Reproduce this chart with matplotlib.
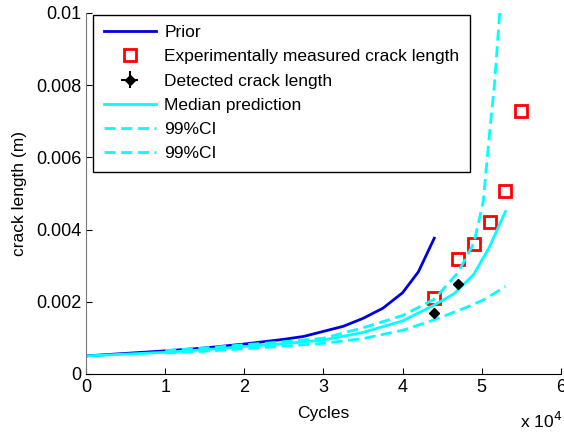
import matplotlib
matplotlib.use("Agg")
import matplotlib.pyplot as plt
from matplotlib.ticker import FuncFormatter
import numpy as np

plt.rcParams['font.family'] = ['Liberation Sans', 'DejaVu Sans']

# prior model prediction
prior_cycles = [0, 5000, 10000, 15000, 20000, 25000, 27500, 30000, 32500, 35000, 37500, 40000, 42000, 44000]
prior_crack = [0.0005, 0.00057, 0.00064, 0.00072, 0.00083, 0.00096, 0.00104, 0.00118, 0.00132,
               0.00154, 0.00182, 0.00225, 0.00283, 0.00376]

# median prediction after updating
median_cycles = [0, 5000, 10000, 15000, 20000, 25000, 30000, 35000, 40000, 44000, 46500, 49000, 51000, 52300, 53000]
median_crack = [0.0005, 0.00055, 0.0006, 0.00067, 0.00076, 0.00084, 0.00094, 0.00115, 0.00147,
                0.00191, 0.00222, 0.00276, 0.00353, 0.00417, 0.0045]

# 99% bounds
upper_cycles = [10000, 15000, 20000, 25000, 30000, 35000, 40000, 44000, 47000, 49000, 49700, 50200, 51000, 51600, 52300, 52600]
upper_crack = [0.00065, 0.00072, 0.00081, 0.00089, 0.00099, 0.00128, 0.00162, 0.00207, 0.00281,
               0.00362, 0.0043, 0.0048, 0.0067, 0.008, 0.0101, 0.0112]
lower_cycles = [10000, 15000, 20000, 25000, 30000, 35000, 40000, 44000, 48000, 50200, 53000]
lower_crack = [0.00058, 0.00063, 0.0007, 0.00077, 0.00085, 0.00098, 0.00121, 0.0015, 0.00184, 0.00205, 0.00242]

# measurements
exp_cycles = [44000, 47000, 49000, 51000, 53000, 55000]
exp_crack = [0.0021, 0.00318, 0.00359, 0.0042, 0.00508, 0.00729]
det_cycles = [44000, 47000]
det_crack = [0.00168, 0.0025]
det_err = [0.00006, 0.00006]

fig = plt.figure(figsize=(5.64, 4.33), dpi=100)
ax = fig.add_axes([0.1525, 0.1363, 0.842, 0.834])

h_prior, = ax.plot(prior_cycles, prior_crack, color="#0000dd", lw=2, label="Prior")
h_exp, = ax.plot(exp_cycles, exp_crack, ls="none", marker="s", ms=9, mfc="none", mec="red", mew=2,
                 label="Experimentally measured crack length")
h_det = ax.errorbar(det_cycles, det_crack, yerr=det_err, xerr=500, fmt="D", color="black", ms=5,
                    elinewidth=1.5, capsize=0, label="Detected crack length")
h_med, = ax.plot(median_cycles, median_crack, color="cyan", lw=2, label="Median prediction")
h_up, = ax.plot(upper_cycles, upper_crack, color="cyan", lw=2, ls=(0, (4, 2)), label="99%CI")
h_lo, = ax.plot(lower_cycles, lower_crack, color="cyan", lw=2, ls=(0, (4, 2)), label="99%CI")

ax.set_xlim(0, 60000)
ax.set_ylim(0, 0.01)
ax.set_xticks(np.arange(0, 60001, 10000))
ax.set_yticks(np.arange(0, 0.01001, 0.002))
ax.xaxis.set_major_formatter(FuncFormatter(lambda v, p: "%g" % (v / 1e4)))
ax.yaxis.set_major_formatter(FuncFormatter(lambda v, p: "%g" % round(v, 4)))
ax.tick_params(direction="in", length=4, labelsize=13, colors="black")
ax.spines["top"].set_visible(False)
ax.spines["right"].set_visible(False)
ax.spines["left"].set_color("#777777")
ax.spines["bottom"].set_color("black")

ax.set_xlabel("Cycles", fontsize=12.5, labelpad=7)
ax.set_ylabel("crack length (m)", fontsize=12.5, labelpad=6)
fig.text(0.922, 0.012, "x 10$^{4}$", fontsize=12.5)

handles = [h_prior, h_exp, h_det, h_med, h_up, h_lo]
leg = ax.legend(handles, [h.get_label() for h in handles], loc="upper left",
                bbox_to_anchor=(0.015, 0.995), borderaxespad=0, fontsize=12.5,
                handlelength=3.0, handletextpad=0.5, borderpad=0.6, labelspacing=0.52,
                fancybox=False, framealpha=1, edgecolor="black")
leg.get_frame().set_linewidth(1)

fig.savefig("out.png", dpi=100)
